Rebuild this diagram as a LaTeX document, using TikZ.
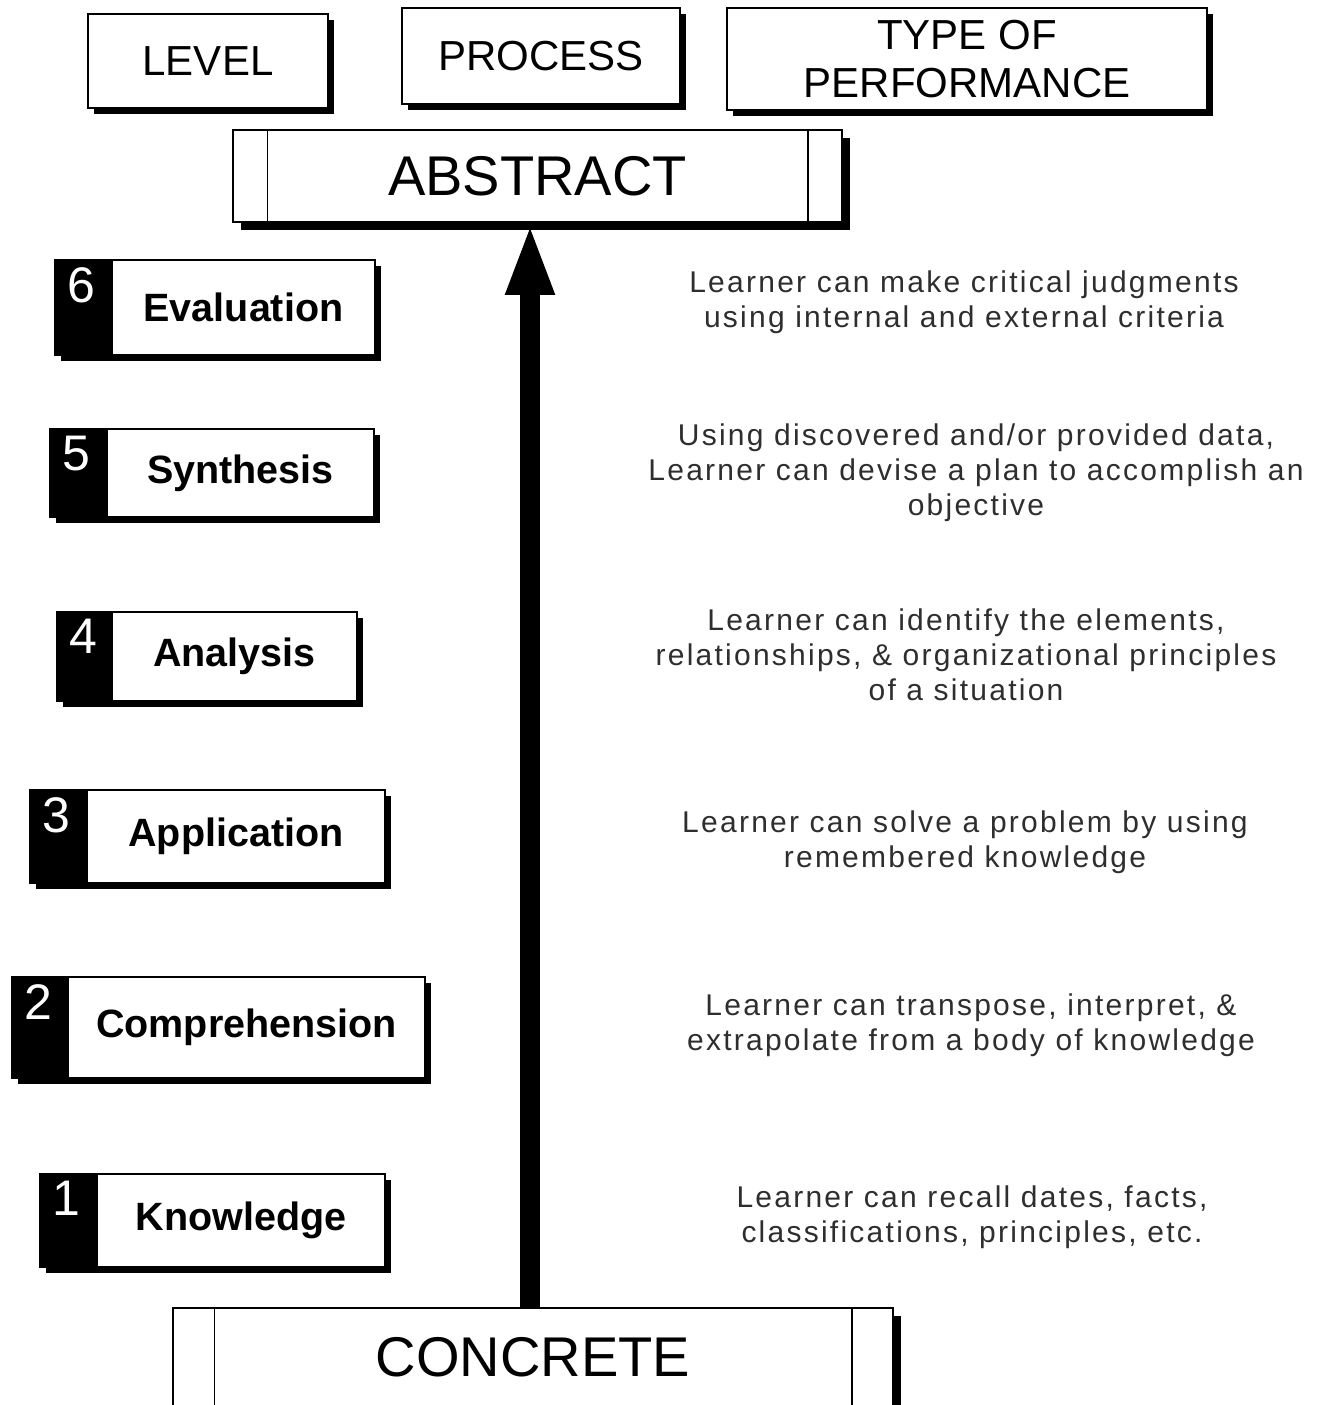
\documentclass[tikz,border=0pt]{standalone}
\usepackage{fontspec}
\setmainfont{Liberation Sans}
\newfontfamily\descfont[LetterSpace=7.5]{Liberation Sans}
\usetikzlibrary{shadows,arrows.meta}

\newcommand{\rectnode}[7]{%
  \node[#6, minimum width={(#4-#2)*1pt}, minimum height={(#5-#3)*1pt}]
    (#1) at ({(#2+#4)/2},{(#3+#5)/2}) {#7};}

% name, digit, label, xl, xm, xr, yt, yb
\newcommand{\levelrow}[8]{%
  \rectnode{#1num}{#4}{#7}{#5}{#8}{numbox}{}
  \node[digit] at ([xshift=13pt,yshift=-8pt]#1num.north west) {#2};
  \rectnode{#1}{#5}{#7}{#6}{#8}{lvlbox}{#3}}

\begin{document}
\begin{tikzpicture}[x=1pt,y=-1pt,
  shbox/.style={draw=black, line width=1.6pt, fill=white, inner sep=0pt,
    drop shadow={shadow xshift=6pt, shadow yshift=-6pt, fill=black, opacity=1}},
  hdr/.style={shbox, align=center, font=\fontsize{42pt}{48pt}\selectfont},
  endbox/.style={draw=black, line width=1.6pt, fill=white, inner sep=0pt,
    drop shadow={shadow xshift=8pt, shadow yshift=-8pt, fill=black, opacity=1},
    font=\fontsize{56pt}{60pt}\selectfont},
  numbox/.style={shbox, fill=black},
  lvlbox/.style={shbox, font=\fontsize{39.5pt}{42pt}\selectfont\bfseries},
  digit/.style={anchor=north west, inner sep=0pt, text=white,
    font=\fontsize{50pt}{50pt}\selectfont},
  desc/.style={align=center, inner sep=0pt, text=black!82,
    font=\descfont\fontsize{30pt}{35pt}\selectfont},
  arrowline/.style={line width=20pt,
    -{Triangle[length=72pt,width=44pt]}}]
\useasboundingbox (0,0) rectangle (1319,1405);

% header boxes
\rectnode{level}{88}{14}{328}{108}{hdr}{LEVEL}
\rectnode{process}{402}{8}{680}{104}{hdr}{PROCESS}
\rectnode{perf}{727}{8}{1207}{110}{hdr}{TYPE OF\\PERFORMANCE}

% abstract / concrete
\rectnode{abstract}{233}{130}{842}{222}{endbox}{ABSTRACT}
\draw[line width=1.4pt] ([xshift=35pt]abstract.north west) -- ([xshift=35pt]abstract.south west);
\draw[line width=1.4pt] ([xshift=-35pt]abstract.north east) -- ([xshift=-35pt]abstract.south east);

\rectnode{concrete}{173}{1308}{893}{1406}{endbox}{CONCRETE}
\draw[line width=1.4pt] ([xshift=42pt]concrete.north west) -- ([xshift=42pt]concrete.south west);
\draw[line width=1.4pt] ([xshift=-42pt]concrete.north east) -- ([xshift=-42pt]concrete.south east);

% arrow
\coordinate (ax) at (530,0);
\draw[arrowline] (concrete.north -| ax) -- (abstract.south -| ax);

% levels
\levelrow{eval}{6}{Evaluation}{55}{112}{375}{260}{355}
\levelrow{synth}{5}{Synthesis}{50}{107}{374}{429}{517}
\levelrow{anal}{4}{Analysis}{57}{112}{357}{612}{701}
\levelrow{appl}{3}{Application}{30}{87}{385}{790}{883}
\levelrow{comp}{2}{Comprehension}{12}{68}{425}{977}{1078}
\levelrow{know}{1}{Knowledge}{40}{97}{385}{1174}{1267}

% descriptions
\node[desc] (d6) at (964,302) {Learner can make critical judgments\\using internal and external criteria};
\node[desc] (d5) at (976,473) {Using discovered and/or provided data,\\Learner can devise a plan to accomplish an\\objective};
\node[desc] (d4) at (966,655) {Learner can identify the elements,\\relationships, \& organizational principles\\of a situation};
\node[desc] (d3) at (965,842) {Learner can solve a problem by using\\remembered knowledge};
\node[desc] (d2) at (971,1025) {Learner can transpose, interpret, \&\\extrapolate from a body of knowledge};
\node[desc] (d1) at (972,1217) {Learner can recall dates, facts,\\classifications, principles, etc.};
\end{tikzpicture}
\end{document}
